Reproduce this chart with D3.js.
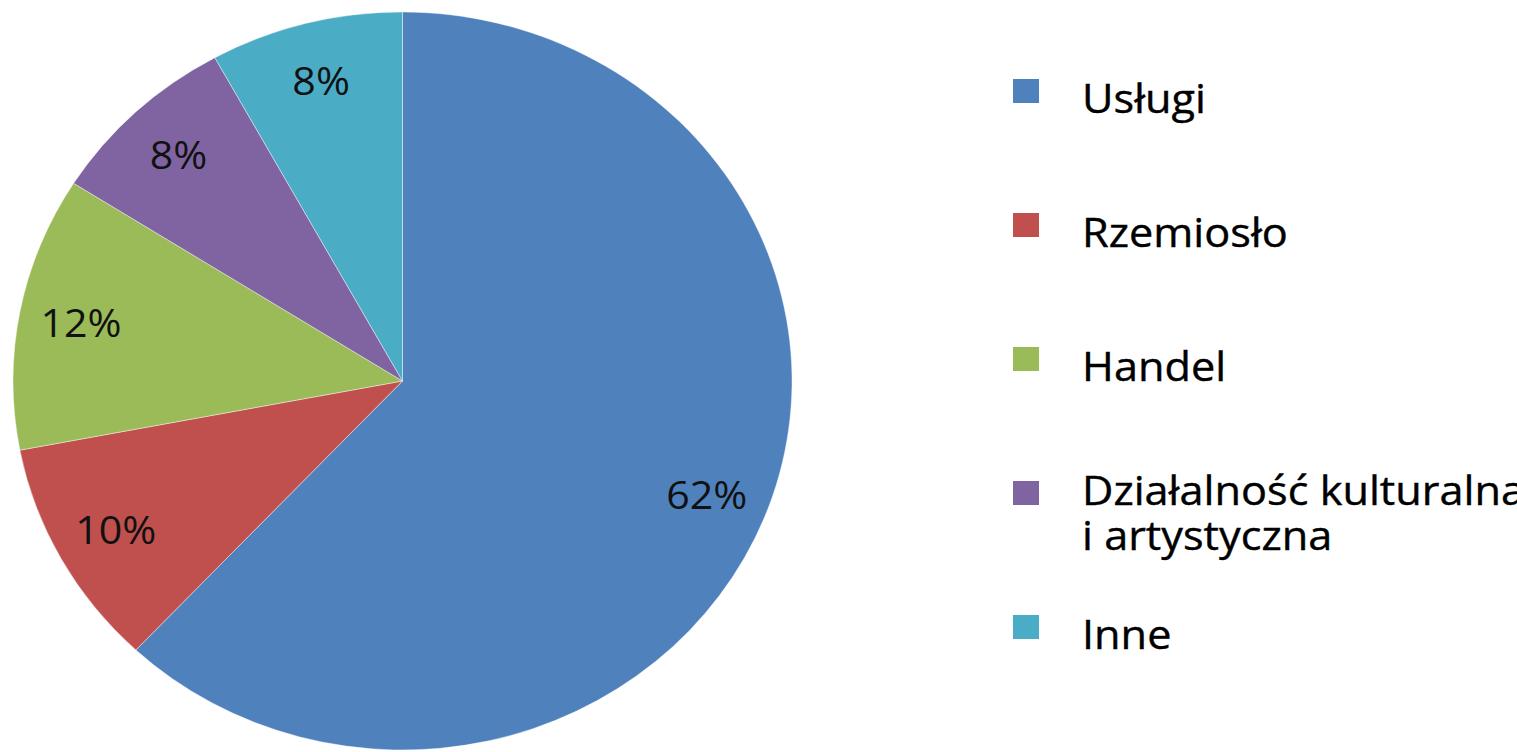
<!DOCTYPE html>
<html>
<head>
<meta charset="utf-8">
<script src="https://cdn.jsdelivr.net/npm/d3@7"></script>
<style>
  html, body { margin: 0; padding: 0; background: #fff; overflow: hidden; }
  svg { display: block; }
</style>
</head>
<body>
<svg id="chart" width="1517" height="752"></svg>
<script>
// ---- data ----
const categories = ["Usługi", "Rzemiosło", "Handel", "Działalność kulturalna i artystyczna", "Inne"];
const legendLines = [["Usługi"], ["Rzemiosło"], ["Handel"], ["Działalność kulturalna", "i artystyczna"], ["Inne"]];
const values = [62, 10, 12, 8, 8];
const percentLabels = ["62%", "10%", "12%", "8%", "8%"];
const colors = ["#4F81BD", "#C0504D", "#9BBB59", "#8064A2", "#4BACC6"];

// ---- layout ----
const W = 1517, H = 752;
const sx = 1.0556;          // horizontal stretch of the original picture
const cx = 402.5, cy = 381, R = 369;
const fontFamily = "'Open Sans', 'Noto Sans', sans-serif";

const svg = d3.select("#chart");
svg.append("rect").attr("width", W).attr("height", H).attr("fill", "#fff");

const root = svg.append("g").attr("transform", `scale(${sx},1)`);

const color = d3.scaleOrdinal().domain(categories).range(colors);

const pie = d3.pie().sort(null).value(d => d.value).startAngle(0).endAngle(2 * Math.PI);
const data = categories.map((c, i) => ({ cat: c, value: values[i], label: percentLabels[i] }));
const arcs = pie(data);

const arc = d3.arc().innerRadius(0).outerRadius(R);
const labelArc = d3.arc().innerRadius(R * 0.84).outerRadius(R * 0.84);

const pieG = root.append("g").attr("transform", `translate(${cx / sx},${cy})`);

pieG.selectAll("path.slice")
  .data(arcs)
  .join("path")
  .attr("class", "slice")
  .attr("d", arc)
  .attr("fill", d => color(d.data.cat))
  .attr("stroke", "#ffffff")
  .attr("stroke-opacity", 0.5)
  .attr("stroke-width", 0.8);

pieG.selectAll("text.pct")
  .data(arcs)
  .join("text")
  .attr("class", "pct")
  .attr("transform", d => `translate(${labelArc.centroid(d)})`)
  .attr("text-anchor", "middle")
  .attr("dy", "0.36em")
  .attr("font-family", fontFamily)
  .attr("font-size", 39)
  .attr("fill", "#111")
  .text(d => d.data.label);

// ---- legend ----
const legendX = 1013, legendTextX = 1082;
const sqW = 26, sqH = 24;
const firstY = 91, stepY = 134;

const legend = root.append("g");
const items = legend.selectAll("g.item")
  .data(categories)
  .join("g")
  .attr("class", "item")
  .attr("transform", (d, i) => `translate(0,${firstY + i * stepY})`);

items.append("rect")
  .attr("x", legendX / sx)
  .attr("y", -sqH / 2)
  .attr("width", sqW / sx)
  .attr("height", sqH)
  .attr("fill", d => color(d));

items.each(function (d, i) {
  const lines = legendLines[i];
  const base = lines.length > 1 ? 12 : 22;
  lines.forEach((ln, j) => {
    d3.select(this).append("text")
      .attr("x", legendTextX / sx)
      .attr("y", base + j * 45)
      .attr("font-family", fontFamily)
      .attr("font-size", 41)
      .attr("fill", "#000")
      .attr("stroke", "#000")
      .attr("stroke-width", 0.4)
      .text(ln);
  });
});
</script>
</body>
</html>
